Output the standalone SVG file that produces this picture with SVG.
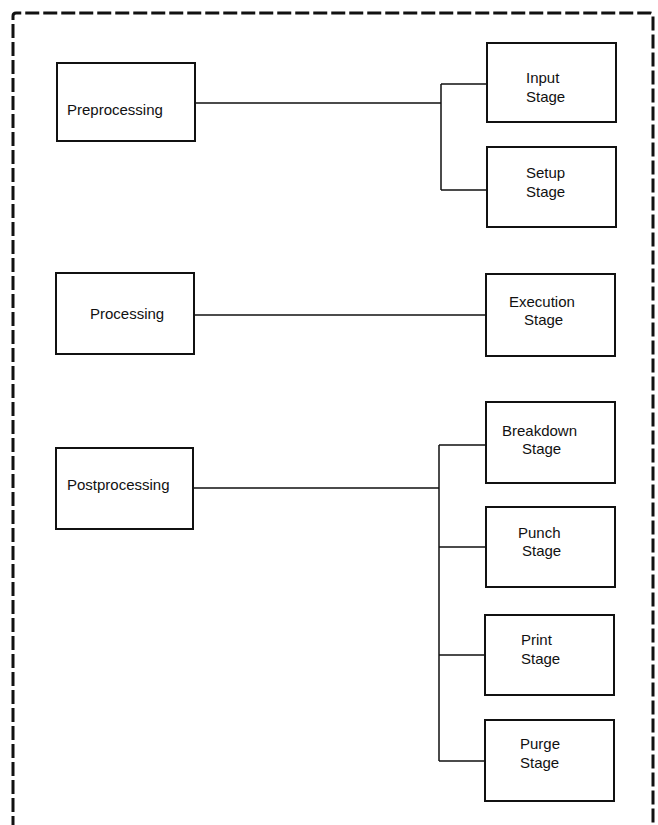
<svg xmlns="http://www.w3.org/2000/svg" width="658" height="825" viewBox="0 0 658 825">
<style>
.box{fill:#fff;stroke:#111;stroke-width:2}
.lbl{font-family:"Liberation Sans",Arial,sans-serif;font-size:15px;fill:#111}
.con{fill:none;stroke:#111;stroke-width:1.5}
.frame{fill:none;stroke:#111;stroke-width:3;stroke-dasharray:14 4}
</style>
<rect width="658" height="825" fill="#fff"/>
<path class="frame" d="M13,830 V16 Q13,13 16,13 H650 Q653,13 653,16 V830"/>
<g id="connectors">
<path class="con" d="M195,103 H441 M441,84 V190 M441,84 H487 M441,190 H487"/>
<path class="con" d="M194,315 H486"/>
<path class="con" d="M193,488 H439 M439,445 V761 M439,445 H486 M439,547 H486 M439,655 H486 M439,761 H486"/>
</g>
<g id="preprocessing">
<rect class="box" x="57" y="63" width="138" height="78"/>
<text class="lbl" x="67" y="115">Preprocessing</text>
</g>
<g id="processing">
<rect class="box" x="56" y="273" width="138" height="81"/>
<text class="lbl" x="90" y="319">Processing</text>
</g>
<g id="postprocessing">
<rect class="box" x="56" y="448" width="137" height="81"/>
<text class="lbl" x="67" y="490">Postprocessing</text>
</g>
<g id="input-stage">
<rect class="box" x="487" y="43" width="129" height="79"/>
<text class="lbl" x="526" y="83">Input</text>
<text class="lbl" x="526" y="102">Stage</text>
</g>
<g id="setup-stage">
<rect class="box" x="487" y="147" width="129" height="80"/>
<text class="lbl" x="526" y="178">Setup</text>
<text class="lbl" x="526" y="197">Stage</text>
</g>
<g id="execution-stage">
<rect class="box" x="486" y="274" width="129" height="82"/>
<text class="lbl" x="509" y="307">Execution</text>
<text class="lbl" x="524" y="325">Stage</text>
</g>
<g id="breakdown-stage">
<rect class="box" x="486" y="402" width="129" height="81"/>
<text class="lbl" x="502" y="436">Breakdown</text>
<text class="lbl" x="522" y="454">Stage</text>
</g>
<g id="punch-stage">
<rect class="box" x="486" y="507" width="129" height="80"/>
<text class="lbl" x="518" y="538">Punch</text>
<text class="lbl" x="522" y="556">Stage</text>
</g>
<g id="print-stage">
<rect class="box" x="485" y="615" width="129" height="80"/>
<text class="lbl" x="521" y="645">Print</text>
<text class="lbl" x="521" y="664">Stage</text>
</g>
<g id="purge-stage">
<rect class="box" x="485" y="720" width="129" height="81"/>
<text class="lbl" x="520" y="749">Purge</text>
<text class="lbl" x="520" y="768">Stage</text>
</g>
</svg>
